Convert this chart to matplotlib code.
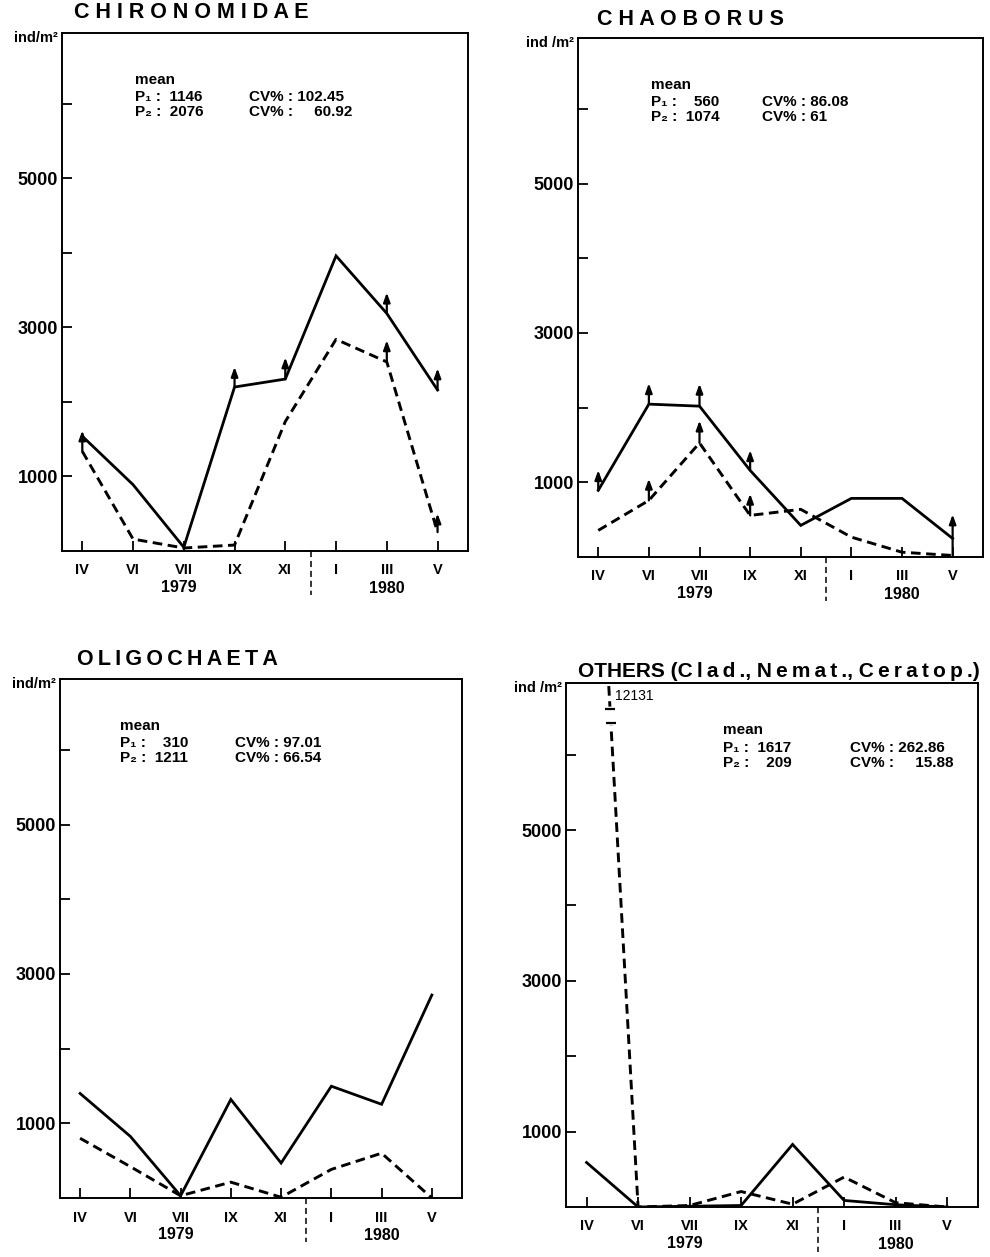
import numpy as np
import matplotlib
matplotlib.use('Agg')
from matplotlib import pyplot as plt
from matplotlib import transforms

plt.rcParams['font.family'] = ['Liberation Sans', 'DejaVu Sans']
plt.rcParams['font.weight'] = 'bold'

months = ['IV', 'VI', 'VII', 'IX', 'XI', 'I', 'III', 'V']

# P1 = dashed line, P2 = solid line (ind/m2)
chiro_p1 = [1337, 160, 40, 80, 1737, 2840, 2537, 253]
chiro_p2 = [1540, 890, 50, 2200, 2307, 3960, 3187, 2160]
chaob_p1 = [356, 758, 1527, 557, 638, 266, 64, 20]
chaob_p2 = [893, 2047, 2020, 1160, 423, 785, 785, 248]
oligo_p1 = [800, 420, 30, 212, 10, 383, 600, 0]
oligo_p2 = [1400, 825, 30, 1320, 468, 1497, 1255, 2718]
other_p1 = [12131, 0, 20, 205, 37, 397, 57, 0]
other_p2 = [590, 0, 10, 20, 830, 87, 30, 0]

# means and CV% printed in each panel
chiro_mean = [1146, 2076]
chiro_cv = ['102.45', '\u2007\u200760.92']
chaob_mean = [560, 1074]
chaob_cv = ['86.08', '61']
oligo_mean = [310, 1211]
oligo_cv = ['97.01', '66.54']
other_mean = [1617, 209]
other_cv = ['262.86', '\u2007\u200715.88']

# arrows: (month index, series, length)
chiro_arrows = [(0, 'p1', 280), (3, 'p2', 270), (4, 'p2', 290), (6, 'p2', 280),
                (6, 'p1', 290), (7, 'p2', 290), (7, 'p1', 250)]
chaob_arrows = [(0, 'p2', 270), (1, 'p2', 280), (2, 'p2', 300), (1, 'p1', 290),
                (2, 'p1', 300), (3, 'p2', 270), (3, 'p1', 290), (7, 'p1', 550)]

fig = plt.figure(figsize=(9.9, 12.57), dpi=100)
W, H = 990.0, 1257.0


def make_ax(left, top, right, bottom):
    return fig.add_axes([left / W, 1 - bottom / H, (right - left) / W, (bottom - top) / H])


def spaced(s, sep=' '):
    return sep.join(list(s))


def panel(ax, title, tx, ty, tsize, unit, p1, p2, mean, cv, mx, cvx, arrows=()):
    x = np.arange(len(months))
    ax.plot(x, p2, color='k', lw=2.0, solid_joinstyle='miter')
    ax.plot(x, p1, color='k', lw=2.1, dashes=(3.3, 1.9))
    for i, s, L in arrows:
        v = (p1 if s == 'p1' else p2)[i]
        ax.annotate('', xy=(i, v + L), xytext=(i, v),
                    arrowprops=dict(arrowstyle='-|>,head_width=0.2,head_length=0.55',
                                    lw=1.6, color='k', shrinkA=0, shrinkB=0))
    ax.set_xlim(-0.4, 7.6)
    ax.set_ylim(0, 6950)
    ax.set_xticks(x)
    ax.set_xticklabels(months, fontsize=10.5, fontweight='bold')
    ax.set_yticks([1000, 3000, 5000])
    ax.set_yticklabels(['1000', '3000', '5000'], fontsize=13, fontweight='bold')
    ax.set_yticks([2000, 4000, 6000], minor=True)
    ax.tick_params(which='both', direction='in', length=7, width=1.3)
    ax.tick_params(axis='x', pad=9)
    ax.tick_params(axis='y', pad=3)
    for sp in ax.spines.values():
        sp.set_linewidth(1.4)
    trans = transforms.blended_transform_factory(ax.transData, ax.transAxes)
    ax.plot([4.5, 4.5], [0, -0.085], transform=trans, clip_on=False,
            color='k', lw=1.1, dashes=(4, 2.5))
    ax.text(1.9, -0.07, '1979', transform=trans, ha='center', va='center', fontsize=11.5)
    ax.text(6.0, -0.072, '1980', transform=trans, ha='center', va='center', fontsize=11.5)
    ax.text(tx, ty, title, transform=ax.transAxes, ha='left', va='center',
            fontsize=tsize, fontweight='heavy')
    ax.text(-0.01, 0.99, unit, transform=ax.transAxes, ha='right', va='center', fontsize=10.5)
    ax.text(mx, 0.91, 'mean', transform=ax.transAxes, fontsize=11, va='center')
    for k, yy in enumerate([0.876, 0.848]):
        num = str(mean[k]).rjust(4).replace(' ', '\u2007')
        ax.text(mx, yy, 'P%s :  %s' % ('\u2081\u2082'[k], num), transform=ax.transAxes,
                fontsize=11, va='center')
        ax.text(cvx, yy, 'CV% : ' + cv[k], transform=ax.transAxes, fontsize=11, va='center')


ax1 = make_ax(62, 33, 468, 551)
panel(ax1, spaced('CHIRONOMIDAE'), 0.03, 1.04, 15.5, 'ind/m\u00b2', chiro_p1, chiro_p2,
      chiro_mean, chiro_cv, 0.18, 0.46, chiro_arrows)

ax2 = make_ax(578, 38, 983, 557)
panel(ax2, spaced('CHAOBORUS'), 0.047, 1.036, 15.5, 'ind /m\u00b2', chaob_p1, chaob_p2,
      chaob_mean, chaob_cv, 0.18, 0.455, chaob_arrows)

ax3 = make_ax(60, 679, 462, 1198)
panel(ax3, spaced('OLIGOCHAETA', '\u2009'), 0.042, 1.038, 15.5, 'ind/m\u00b2', oligo_p1,
      oligo_p2, oligo_mean, oligo_cv, 0.15, 0.435)

ax4 = make_ax(566, 683, 978, 1207)
panel(ax4, 'OTHERS (' + spaced('Clad.', '\u2009') + ', ' + spaced('Nemat.', '\u2009') + ', '
      + spaced('Ceratop.', '\u2009') + ')', 0.03, 1.022, 15, 'ind /m\u00b2', other_p1,
      other_p2, other_mean, other_cv, 0.38, 0.69)

# axis break on the IV->VI dashed segment of OTHERS
v_hi, v_lo = 6600, 6420
xb = [(other_p1[0] - v) / (other_p1[0] - other_p1[1]) for v in (v_hi, v_lo)]
ax4.plot(xb, [v_hi, v_lo], color='white', lw=4, zorder=3)
ax4.plot(xb, [v_hi, v_lo], ls='none', marker='_', ms=7, mew=1.6, color='k', zorder=4)
ax4.text(xb[0] + 0.1, v_hi + 180, str(other_p1[0]), fontsize=10, fontweight='normal',
         va='center')

fig.savefig('out.png', dpi=100)
